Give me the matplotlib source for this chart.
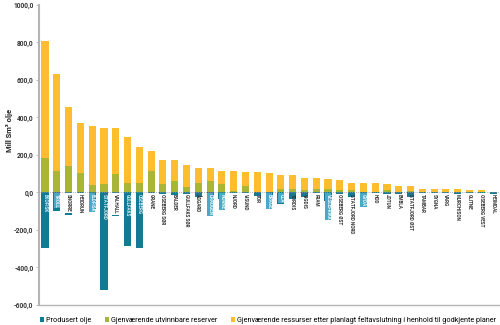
import numpy as np
import matplotlib
matplotlib.use("Agg")
import matplotlib.pyplot as plt

plt.rcParams['font.family'] = ['Roboto', 'DejaVu Sans']

felt = ["EKOFISK", "TROLL", "SNORRE", "HEIDRUN", "ELDFISK", "STATFJORD", "VALHALL",
        "GULLFAKS", "OSEBERG", "GRANE", "OSEBERG SØR", "BALDER", "GULLFAKS SØR",
        "ÅSGARD", "DRAUGEN", "NORNE", "NJORD", "VISUND", "TOR", "BRAGE", "ULA",
        "TORDIS", "VIGDIS", "FRAM", "VESLEFRIKK", "OSEBERG ØST", "STATFJORD NORD",
        "GYDA", "HOD", "JOTUN", "EMBLA", "STATFJORD ØST", "TAMBAR", "SYGNA", "VARG",
        "MURCHISON", "GLITNE", "OSEBERG VEST", "HEIMDAL"]

# produsert olje (negativ)
produsert = [-295, -98, -120, -100, -89, -521, -128, -288, -295, -3, -7, -11, -8,
             -25, -40, -36, -5, -3, -20, -36, -59, -37, -25, -5, -43, -10, -25,
             -34, -5, -10, -7, -25, -2, -5, -3, -10, -2, -2, -7]
# gjenværende utvinnbare reserver
reserver = [183, 117, 139, 105, 39, 44, 96, 50, 53, 117, 44, 62, 28, 50, 59, 46, 7,
            36, 3, 5, 16, 20, 11, 16, 16, 14, 12, 2, 3, 11, 3, 9, 4, 2, 1, 1, 1, 1, 1]
# gjenværende ressurser etter planlagt feltavslutning
ressurser = [622, 514, 319, 266, 313, 302, 249, 247, 191, 105, 130, 109, 121, 78,
             69, 71, 110, 72, 104, 98, 75, 71, 68, 63, 55, 54, 40, 46, 45, 32, 33,
             27, 17, 17, 15, 15, 11, 10, 4]

blaa = "#137a94"
gronn = "#a9b535"
gul = "#fdbd2e"
graa = "#b5b5b5"

x = np.arange(len(felt))
w = 0.6

fig = plt.figure(figsize=(5, 3.25), dpi=100)
ax = fig.add_axes([0.078, 0.0615, 0.92, 0.9235])

ax.bar(x, produsert, w, color=blaa, label="Produsert olje", zorder=2)
ax.bar(x, reserver, w, color=gronn, label="Gjenværende utvinnbare reserver", zorder=2)
ax.bar(x, ressurser, w, bottom=reserver, color=gul,
       label="Gjenværende ressurser etter planlagt feltavslutning i henhold til godkjente planer",
       zorder=2)

ax.axhline(0, color="#9a9a9a", lw=0.6, ls=(0, (1, 1.5)), zorder=3)

# feltnavn under nullinja
lys = {"EKOFISK", "STATFJORD", "GULLFAKS", "OSEBERG"}
boks = {"TROLL", "ELDFISK", "DRAUGEN", "NORNE", "BRAGE", "ULA", "VESLEFRIKK", "GYDA"}
hvit = {"SNORRE", "HEIDRUN", "VALHALL"}
for xi, navn in zip(x, felt):
    kw = dict(rotation=-90, ha="center", va="top", fontsize=3.3, fontweight="bold",
              zorder=4)
    if navn in lys:
        ax.text(xi, -8, navn, color="#d6eef5", **kw)
    elif navn in boks:
        ax.text(xi, -8, navn, color="#eaf7fb",
                bbox=dict(boxstyle="square,pad=0.15", fc="#4aa9c6", ec="none"), **kw)
    elif navn in hvit:
        ax.text(xi, -8, navn, color="#333333",
                bbox=dict(boxstyle="square,pad=0.3", fc="white", ec="none"), **kw)
    else:
        ax.text(xi, -8, navn, color="#333333", **kw)

ax.set_ylim(-600, 1000)
ax.set_xlim(-0.51, 38.5)
yt = np.arange(-600, 1001, 200)
ax.set_yticks(yt)
ax.set_yticklabels([f"{v:.1f}".replace(".", ",") for v in yt], fontsize=4.8,
                   fontweight="bold", color="#333333")
ax.set_xticks([])
ax.tick_params(axis="y", length=2, width=0.6, color=graa, pad=2)

for s in ["top", "right"]:
    ax.spines[s].set_visible(False)
ax.spines["left"].set_color(graa)
ax.spines["left"].set_linewidth(1.5)
ax.spines["bottom"].set_color(graa)
ax.spines["bottom"].set_linewidth(1.0)

fig.text(0.02, 0.6, "Mill Sm³ olje", rotation=90, ha="center", va="center",
         fontsize=5.5, fontweight="bold", color="#222222")

fig.legend(loc="lower left", bbox_to_anchor=(0.074, -0.006), ncol=3, frameon=False,
           fontsize=5.2, handlelength=0.6, handleheight=0.6,
           handletextpad=0.3, columnspacing=1.8, borderaxespad=0)

fig.savefig("out.png", dpi=100)
